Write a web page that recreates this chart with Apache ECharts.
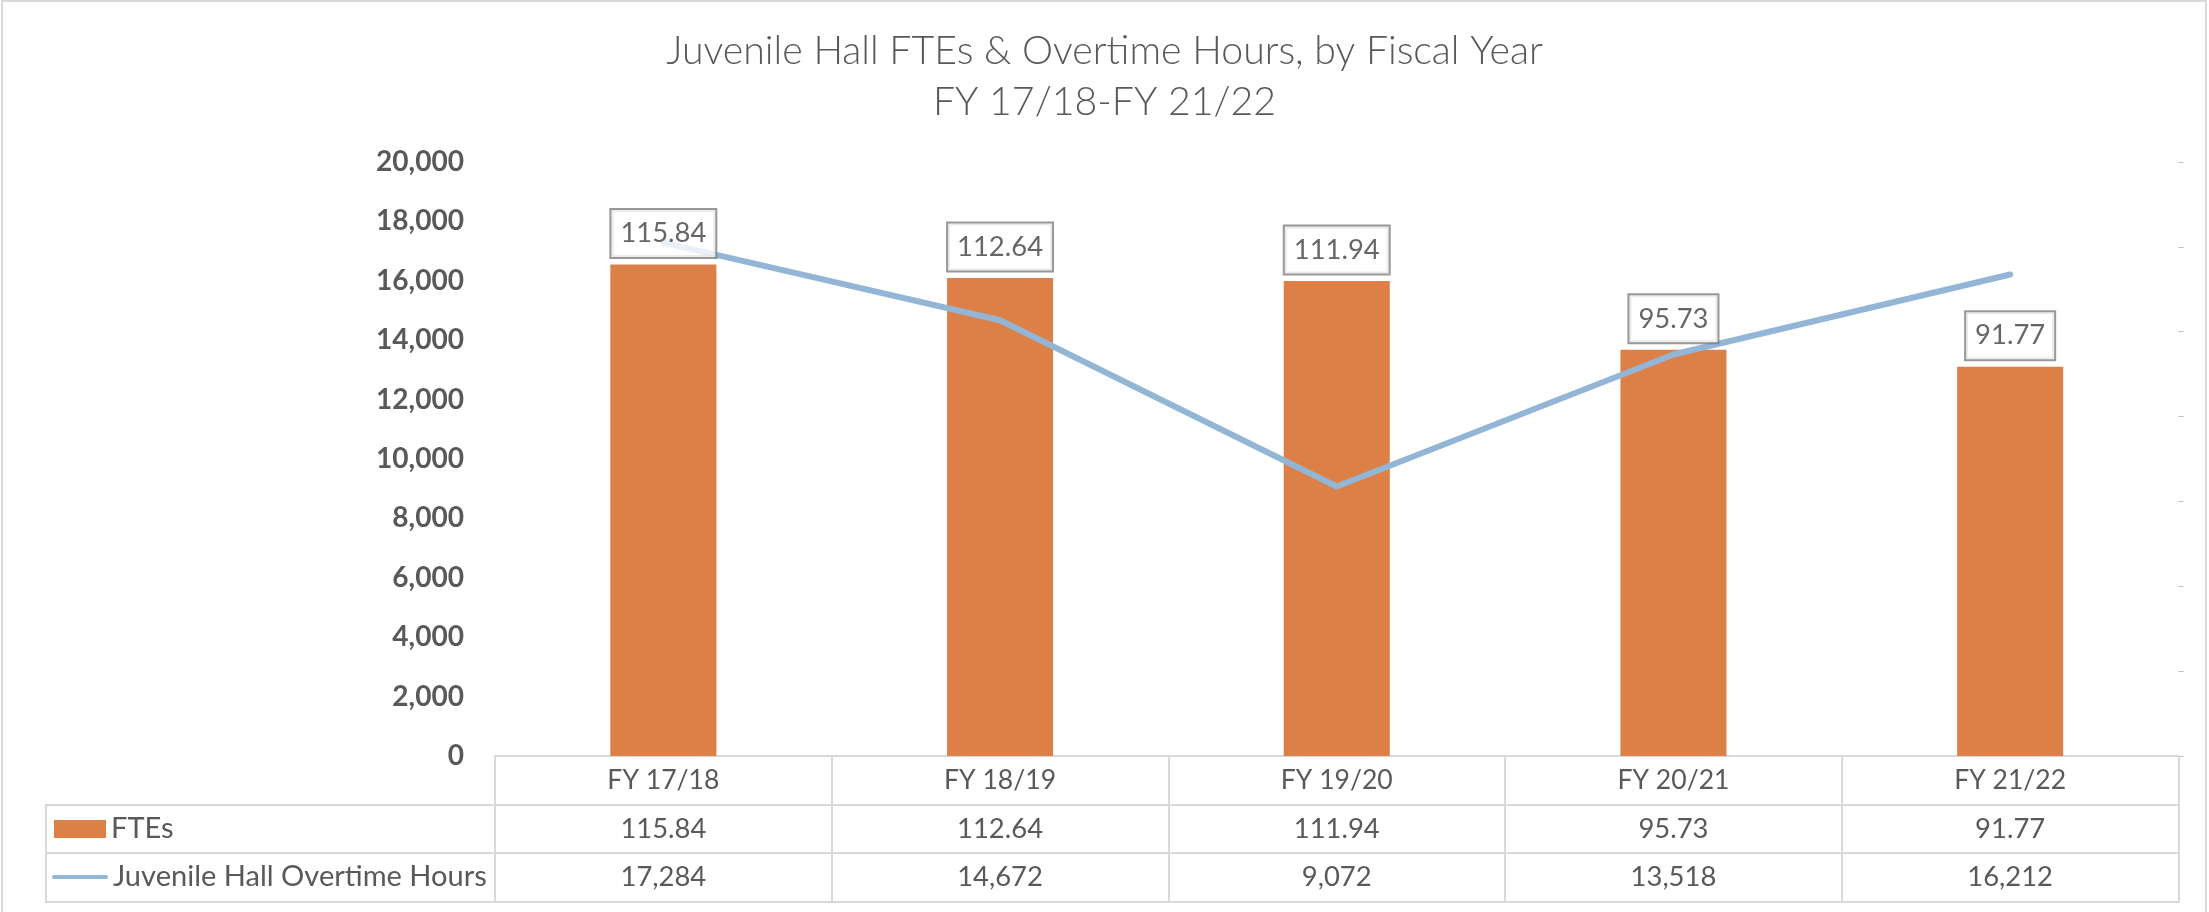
<!DOCTYPE html>
<html><head><meta charset="utf-8">
<script src="https://cdn.jsdelivr.net/npm/echarts@6/dist/echarts.min.js"></script>
<style>html,body{margin:0;padding:0;background:#fff}#c{width:2209px;height:912px}</style>
</head><body><div id="c"></div>
<script>
// ---- data ----
const titleLines = ['Juvenile Hall FTEs & Overtime Hours, by Fiscal Year', 'FY 17/18-FY 21/22'];
const categories = ['FY 17/18', 'FY 18/19', 'FY 19/20', 'FY 20/21', 'FY 21/22'];
const ftes = [115.84, 112.64, 111.94, 95.73, 91.77];
const overtimeHours = [17284, 14672, 9072, 13518, 16212];
const seriesNames = ['FTEs', 'Juvenile Hall Overtime Hours'];
const hoursAxis = { min: 0, max: 20000, interval: 2000 };
const fteAxis = { min: 0, max: 140, interval: 20 };

// ---- font fitting (substitute for Calibri) ----
const FAMILY = 'Lato, "Noto Sans", sans-serif';
const cv = document.createElement('canvas').getContext('2d');
function fit(text, weight, target) {
  cv.font = weight + ' 100px ' + FAMILY;
  return 100 * target / cv.measureText(text).width;
}
const fsTitle = fit(titleLines[0], '300', 877);
const fsY = fit('20,000', 'bold', 88);
const fsCat = fit('FY 17/18', 'normal', 112);
const fsNum = fit('115.84', 'normal', 86);
const fsLegend = fit(seriesNames[1], 'normal', 374);

const fmtInt = v => Number(v).toLocaleString('en-US');
const fmt2 = v => Number(v).toFixed(2);

const BORDER = '#d9d9d9';
const TEXT = '#595959';
const BAR = '#DD8047';
const LINE = '#93B5D6';

const tableAxisLine = { show: true, onZero: false, lineStyle: { color: BORDER, width: 2 } };
const cellLabel = (fs, margin, formatter) => ({
  show: true, interval: 0, fontFamily: FAMILY, fontSize: fs, color: TEXT,
  margin: margin, verticalAlign: 'middle', formatter: formatter
});

const chart = echarts.init(document.getElementById('c'), null, { renderer: 'canvas' });
chart.setOption({
  backgroundColor: '#ffffff',
  animation: false,
  title: {
    text: titleLines.join('\n'),
    left: 'center', top: 26, padding: 0,
    textStyle: { fontFamily: FAMILY, fontSize: fsTitle, fontWeight: 300, color: TEXT, lineHeight: 51 }
  },
  grid: { left: 495, right: 30.5, top: 162, bottom: 156, containLabel: false },
  legend: [
    {
      data: [seriesNames[0]], left: 54, top: 814, padding: 0, selectedMode: false,
      itemWidth: 52, itemHeight: 18, icon: 'rect',
      textStyle: { fontFamily: FAMILY, fontSize: fsLegend, color: TEXT, lineHeight: 30 }
    },
    {
      data: [{ name: seriesNames[1], icon: 'path://M2,0 L54,0 A2,2 0 0 1 54,4 L2,4 A2,2 0 0 1 2,0 Z' }],
      left: 52, top: 862, padding: 0, selectedMode: false,
      itemWidth: 56, itemHeight: 18,
      textStyle: { fontFamily: FAMILY, fontSize: fsLegend, color: TEXT, lineHeight: 30 }
    }
  ],
  xAxis: [
    {
      type: 'category', data: categories, position: 'bottom', boundaryGap: true,
      axisLine: tableAxisLine,
      axisTick: { show: true, alignWithLabel: false, length: 146, lineStyle: { color: BORDER, width: 2 } },
      axisLabel: cellLabel(fsCat, 24.5)
    },
    {
      type: 'category', data: categories, position: 'bottom', offset: 49,
      axisLine: tableAxisLine, axisTick: { show: false },
      axisLabel: cellLabel(fsNum, 24, (v, i) => fmt2(ftes[i]))
    },
    {
      type: 'category', data: categories, position: 'bottom', offset: 97,
      axisLine: tableAxisLine, axisTick: { show: false },
      axisLabel: cellLabel(fsNum, 24.5, (v, i) => fmtInt(overtimeHours[i]))
    },
    {
      type: 'category', data: categories, position: 'bottom', offset: 146,
      axisLine: tableAxisLine, axisTick: { show: false }, axisLabel: { show: false }
    }
  ],
  yAxis: [
    {
      type: 'value', position: 'left', min: hoursAxis.min, max: hoursAxis.max, interval: hoursAxis.interval,
      axisLine: { show: false }, axisTick: { show: false }, splitLine: { show: false },
      axisLabel: { fontFamily: FAMILY, fontWeight: 'bold', fontSize: fsY, color: TEXT, margin: 31, formatter: fmtInt }
    },
    {
      type: 'value', position: 'right', min: fteAxis.min, max: fteAxis.max, interval: fteAxis.interval,
      axisLine: { show: false }, splitLine: { show: false }, axisLabel: { show: false },
      axisTick: { show: true, length: 5, lineStyle: { color: '#bfbfbf', width: 1 } }
    }
  ],
  series: [
    {
      name: seriesNames[0], type: 'bar', xAxisIndex: 0, yAxisIndex: 1, data: ftes,
      barWidth: '31.5%', itemStyle: { color: BAR }, z: 2
    },
    {
      name: seriesNames[1], type: 'line', xAxisIndex: 0, yAxisIndex: 0, data: overtimeHours,
      symbol: 'none', itemStyle: { color: LINE },
      lineStyle: { color: LINE, width: 6, cap: 'round', join: 'round' }, z: 3
    },
    {
      name: 'labels', type: 'scatter', xAxisIndex: 0, yAxisIndex: 1, data: ftes,
      symbolSize: 1, itemStyle: { color: 'rgba(0,0,0,0)' }, silent: true, z: 6,
      label: {
        show: true, position: 'top', distance: 7, formatter: p => fmt2(p.value),
        fontFamily: FAMILY, fontSize: fsNum, color: '#404040', lineHeight: 33,
        backgroundColor: '#ffffff', borderColor: '#808080', borderWidth: 2, padding: [7, 9]
      }
    }
  ],
  graphic: [
    { type: 'rect', silent: true, shape: { x: 2, y: 1, width: 2204, height: 940 }, style: { fill: null, stroke: BORDER, lineWidth: 2 } },
    { type: 'line', silent: true, shape: { x1: 46, y1: 805, x2: 495, y2: 805 }, style: { stroke: BORDER, lineWidth: 2 } },
    { type: 'line', silent: true, shape: { x1: 46, y1: 853, x2: 495, y2: 853 }, style: { stroke: BORDER, lineWidth: 2 } },
    { type: 'line', silent: true, shape: { x1: 46, y1: 902, x2: 495, y2: 902 }, style: { stroke: BORDER, lineWidth: 2 } },
    { type: 'line', silent: true, shape: { x1: 46, y1: 804, x2: 46, y2: 903 }, style: { stroke: BORDER, lineWidth: 2 } }
  ]
});
</script>
</body></html>
